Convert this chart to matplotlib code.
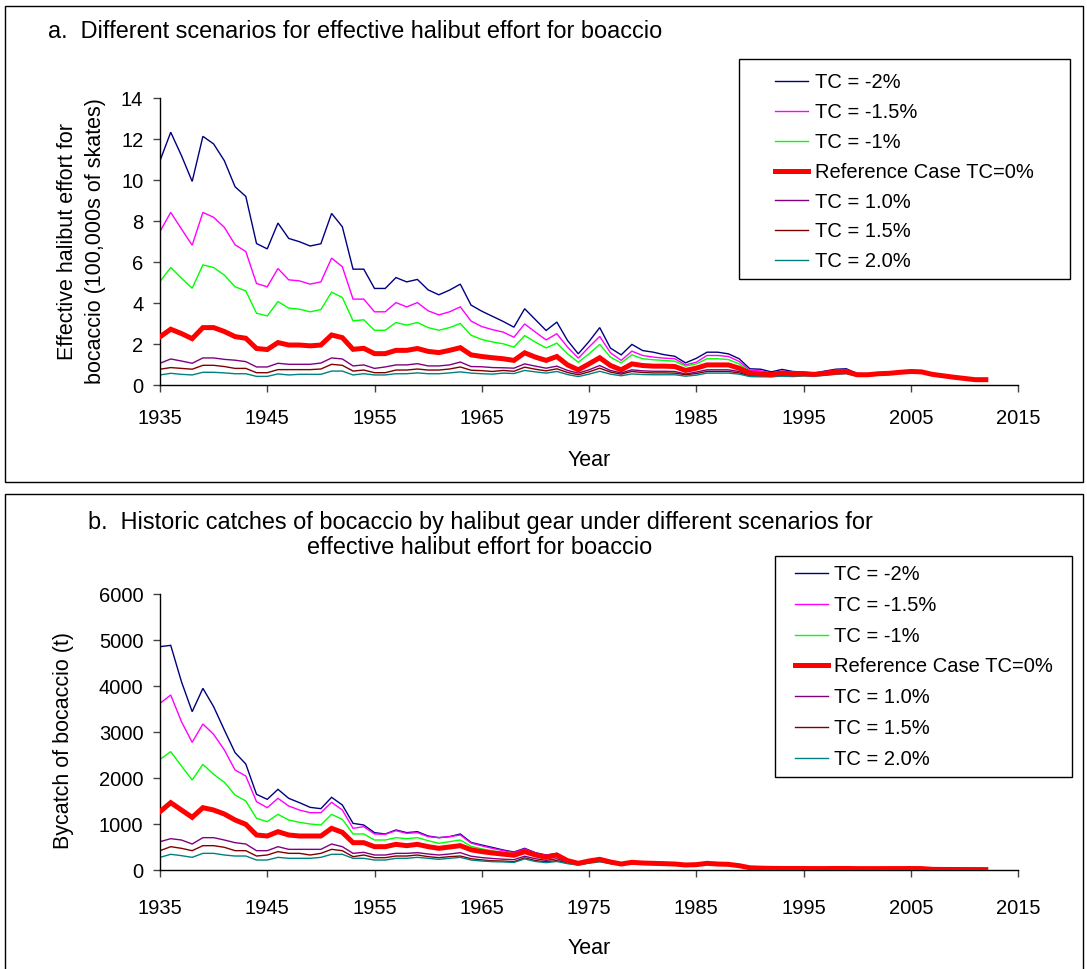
import matplotlib
matplotlib.use('Agg')
import matplotlib.pyplot as plt
from matplotlib.patches import Rectangle
import numpy as np

plt.rcParams['font.family'] = ['Liberation Sans', 'DejaVu Sans']

W, H = 1087, 969

years = list(range(1935, 2013))

labels = ['TC = -2%', 'TC = -1.5%', 'TC = -1%', 'Reference Case TC=0%',
          'TC = 1.0%', 'TC = 1.5%', 'TC = 2.0%']
colors = ['#000080', '#FF00FF', '#00FF00', '#FF0000', '#800080', '#800000', '#008080']
widths = [1.0, 1.0, 1.0, 3.6, 1.0, 1.0, 1.0]

# panel a: effective halibut effort (100,000s of skates)
effort_m20 = [10.94, 12.33, 11.19, 9.93, 12.13, 11.76, 10.94, 9.67, 9.20, 6.90,
              6.64, 7.90, 7.15, 6.99, 6.78, 6.89, 8.37, 7.72, 5.65, 5.65,
              4.71, 4.71, 5.24, 5.03, 5.15, 4.64, 4.40, 4.63, 4.92, 3.90,
              3.60, 3.35, 3.10, 2.82, 3.72, 3.19, 2.66, 3.07, 2.17, 1.52,
              2.12, 2.80, 1.80, 1.47, 1.98, 1.68, 1.60, 1.48, 1.40, 1.08,
              1.30, 1.60, 1.60, 1.52, 1.28, 0.79, 0.77, 0.64, 0.76, 0.66,
              0.63, 0.58, 0.68, 0.77, 0.79, 0.56, 0.55, 0.60, 0.62, 0.68,
              0.71, 0.68, 0.55, 0.47, 0.39, 0.33, 0.26, 0.26]
effort_m15 = [7.49, 8.42, 7.61, 6.82, 8.42, 8.18, 7.69, 6.84, 6.51, 4.95,
              4.79, 5.68, 5.13, 5.08, 4.92, 5.03, 6.19, 5.77, 4.19, 4.19,
              3.57, 3.57, 4.02, 3.81, 4.02, 3.62, 3.42, 3.57, 3.81, 3.12,
              2.85, 2.70, 2.58, 2.33, 2.98, 2.58, 2.20, 2.50, 1.85, 1.31,
              1.85, 2.37, 1.57, 1.20, 1.65, 1.44, 1.36, 1.31, 1.28, 0.98,
              1.11, 1.44, 1.44, 1.39, 1.15, 0.71, 0.69, 0.59, 0.67, 0.63,
              0.61, 0.57, 0.65, 0.73, 0.75, 0.54, 0.54, 0.59, 0.61, 0.66,
              0.70, 0.67, 0.54, 0.46, 0.39, 0.33, 0.26, 0.26]
effort_m10 = [5.05, 5.73, 5.21, 4.72, 5.86, 5.73, 5.36, 4.79, 4.59, 3.50,
              3.37, 4.07, 3.75, 3.70, 3.57, 3.68, 4.53, 4.27, 3.13, 3.18,
              2.67, 2.67, 3.05, 2.92, 3.05, 2.80, 2.67, 2.80, 3.00, 2.43,
              2.22, 2.10, 2.01, 1.85, 2.41, 2.09, 1.81, 2.04, 1.52, 1.11,
              1.52, 1.98, 1.36, 1.08, 1.47, 1.28, 1.23, 1.20, 1.16, 0.92,
              1.03, 1.28, 1.28, 1.24, 1.03, 0.66, 0.63, 0.56, 0.63, 0.59,
              0.58, 0.55, 0.61, 0.68, 0.70, 0.52, 0.52, 0.57, 0.59, 0.64,
              0.68, 0.66, 0.53, 0.46, 0.38, 0.32, 0.26, 0.26]
effort_ref = [2.35, 2.72, 2.51, 2.26, 2.80, 2.80, 2.61, 2.36, 2.28, 1.78,
              1.73, 2.07, 1.95, 1.95, 1.91, 1.95, 2.44, 2.31, 1.74, 1.79,
              1.53, 1.53, 1.69, 1.69, 1.78, 1.64, 1.58, 1.69, 1.82, 1.47,
              1.39, 1.33, 1.28, 1.20, 1.57, 1.36, 1.20, 1.39, 0.98, 0.74,
              1.03, 1.33, 0.95, 0.74, 1.03, 0.95, 0.92, 0.92, 0.90, 0.71,
              0.82, 0.98, 0.98, 0.98, 0.82, 0.58, 0.54, 0.51, 0.58, 0.54,
              0.55, 0.52, 0.57, 0.63, 0.65, 0.50, 0.50, 0.55, 0.57, 0.62,
              0.66, 0.64, 0.52, 0.45, 0.38, 0.32, 0.26, 0.26]
effort_p10 = [1.06, 1.27, 1.17, 1.06, 1.32, 1.32, 1.25, 1.21, 1.14, 0.88,
              0.88, 1.06, 1.01, 1.01, 1.01, 1.07, 1.32, 1.27, 0.93, 0.98,
              0.81, 0.88, 0.98, 0.98, 1.04, 0.93, 0.93, 0.98, 1.12, 0.90,
              0.89, 0.85, 0.84, 0.82, 1.03, 0.92, 0.82, 0.92, 0.71, 0.58,
              0.74, 0.95, 0.71, 0.59, 0.74, 0.69, 0.67, 0.67, 0.66, 0.54,
              0.63, 0.74, 0.74, 0.74, 0.66, 0.50, 0.48, 0.46, 0.51, 0.48,
              0.50, 0.48, 0.52, 0.58, 0.60, 0.47, 0.47, 0.52, 0.55, 0.60,
              0.64, 0.62, 0.51, 0.44, 0.37, 0.32, 0.26, 0.26]
effort_p15 = [0.77, 0.85, 0.81, 0.77, 0.96, 0.96, 0.90, 0.81, 0.81, 0.60,
              0.60, 0.75, 0.75, 0.75, 0.75, 0.78, 1.01, 0.96, 0.68, 0.73,
              0.60, 0.60, 0.73, 0.73, 0.78, 0.73, 0.73, 0.78, 0.88, 0.72,
              0.70, 0.66, 0.71, 0.67, 0.87, 0.77, 0.69, 0.79, 0.61, 0.50,
              0.64, 0.82, 0.63, 0.53, 0.66, 0.61, 0.59, 0.59, 0.58, 0.50,
              0.56, 0.66, 0.66, 0.66, 0.59, 0.45, 0.43, 0.41, 0.46, 0.45,
              0.47, 0.46, 0.50, 0.55, 0.58, 0.45, 0.46, 0.51, 0.54, 0.59,
              0.63, 0.62, 0.50, 0.44, 0.37, 0.31, 0.26, 0.26]
effort_p20 = [0.49, 0.57, 0.52, 0.49, 0.62, 0.62, 0.59, 0.55, 0.55, 0.42,
              0.42, 0.54, 0.49, 0.52, 0.52, 0.52, 0.68, 0.68, 0.49, 0.55,
              0.49, 0.49, 0.55, 0.55, 0.59, 0.55, 0.55, 0.59, 0.64, 0.58,
              0.55, 0.53, 0.58, 0.56, 0.71, 0.64, 0.58, 0.66, 0.51, 0.41,
              0.53, 0.67, 0.53, 0.45, 0.54, 0.51, 0.50, 0.50, 0.50, 0.43,
              0.48, 0.58, 0.58, 0.58, 0.53, 0.41, 0.40, 0.40, 0.43, 0.41,
              0.44, 0.43, 0.47, 0.52, 0.55, 0.43, 0.44, 0.49, 0.52, 0.58,
              0.62, 0.61, 0.50, 0.43, 0.37, 0.31, 0.26, 0.26]

# panel b: bycatch of bocaccio (t); after 1990 the scenarios overlap
catch_tail = [40, 35, 33, 33, 32, 31, 31, 33, 33, 30, 30,
              30, 31, 31, 32, 31, 14, 12, 11, 10, 10, 9]
catch_m20 = [4855, 4884, 4094, 3442, 3949, 3551, 3043, 2551, 2304, 1645,
             1536, 1754, 1558, 1464, 1362, 1333, 1580, 1413, 1014, 978,
             812, 783, 870, 812, 833, 739, 703, 725, 783, 600,
             543, 490, 435, 391, 471, 377, 326, 362, 217, 145,
             203, 261, 181, 130, 181, 152, 152, 145, 130, 109,
             116, 152, 138, 130, 94, 50] + catch_tail
catch_m15 = [3623, 3804, 3225, 2775, 3174, 2949, 2609, 2174, 2043, 1485,
             1355, 1558, 1391, 1304, 1246, 1246, 1471, 1304, 906, 942,
             783, 775, 855, 797, 812, 725, 703, 725, 761, 585,
             525, 470, 420, 378, 458, 368, 318, 352, 212, 143,
             199, 253, 177, 128, 177, 150, 150, 143, 128, 108,
             115, 150, 136, 128, 93, 49] + catch_tail
catch_m10 = [2406, 2572, 2261, 1957, 2297, 2080, 1906, 1630, 1500, 1123,
             1051, 1210, 1087, 1036, 1000, 978, 1210, 1101, 783, 783,
             652, 652, 703, 681, 703, 638, 580, 616, 652, 515,
             460, 415, 385, 348, 425, 345, 300, 338, 207, 142,
             197, 245, 175, 127, 172, 148, 148, 141, 127, 107,
             114, 148, 134, 127, 92, 48] + catch_tail
catch_ref = [1268, 1464, 1304, 1145, 1355, 1304, 1217, 1087, 993, 761,
             739, 833, 761, 739, 739, 739, 906, 819, 594, 594,
             507, 507, 558, 529, 558, 507, 471, 500, 529, 440,
             400, 370, 345, 320, 399, 326, 275, 326, 203, 145,
             196, 232, 174, 130, 167, 152, 145, 138, 130, 109,
             116, 145, 130, 123, 94, 48] + catch_tail
catch_p10 = [616, 681, 652, 565, 703, 703, 652, 594, 565, 420,
             420, 507, 449, 449, 449, 449, 565, 507, 362, 384,
             326, 326, 362, 362, 377, 348, 326, 348, 377, 300,
             270, 250, 235, 225, 300, 245, 210, 245, 165, 125,
             165, 200, 150, 115, 145, 135, 130, 128, 122, 105,
             110, 135, 125, 118, 90, 45] + catch_tail
catch_p15 = [420, 507, 471, 420, 529, 529, 493, 420, 420, 304,
             326, 399, 362, 362, 326, 362, 449, 420, 290, 326,
             268, 268, 304, 304, 326, 290, 268, 290, 304, 245,
             220, 200, 195, 180, 265, 205, 180, 205, 150, 115,
             155, 190, 145, 112, 140, 130, 125, 122, 118, 100,
             105, 128, 120, 112, 86, 43] + catch_tail
catch_p20 = [275, 341, 312, 275, 362, 362, 326, 304, 304, 217,
             217, 275, 254, 254, 254, 275, 341, 341, 254, 254,
             217, 217, 254, 254, 275, 254, 232, 254, 275, 217,
             196, 181, 175, 165, 240, 185, 160, 185, 138, 108,
             148, 178, 138, 108, 135, 125, 120, 118, 112, 96,
             100, 122, 115, 108, 82, 40] + catch_tail

effort = [effort_m20, effort_m15, effort_m10, effort_ref, effort_p10, effort_p15, effort_p20]
catch = [catch_m20, catch_m15, catch_m10, catch_ref, catch_p10, catch_p15, catch_p20]

FS = 14.5      # ticks and legend
FS_LAB = 15.5  # axis labels
FS_TIT = 16.9  # panel titles


def fx(px):
    return px / W


def fy(py):
    return 1 - py / H


def draw_panel(ax, series, ymax, ystep, xpad):
    handles = []
    for i, s in enumerate(series):
        z = 3 if i == 3 else 2
        h, = ax.plot(years, s, color=colors[i], lw=widths[i], zorder=z,
                     solid_joinstyle='miter')
        handles.append(h)
    ax.set_xlim(1935, 2015)
    ax.set_ylim(0, ymax)
    ax.set_xticks(range(1935, 2016, 10))
    ax.set_yticks(np.arange(0, ymax + 1e-9, ystep))
    for side in ['top', 'right']:
        ax.spines[side].set_visible(False)
    for side in ['left', 'bottom']:
        ax.spines[side].set_color('black')
        ax.spines[side].set_linewidth(1.0)
    ax.tick_params(direction='out', length=5, width=1.0, color='#444444',
                   labelsize=FS)
    ax.tick_params(axis='x', pad=xpad)
    ax.tick_params(axis='y', pad=7)
    ax.patch.set_alpha(0)
    return handles


fig = plt.figure(figsize=(W / 100, H / 100), dpi=100)

# panel frames
fig.patches.append(Rectangle((fx(5), fy(482)), fx(1078), (482 - 6) / H,
                             transform=fig.transFigure, fill=False,
                             edgecolor='black', lw=1.0))
fig.patches.append(Rectangle((fx(5), -0.02), fx(1078), fy(494) + 0.02,
                             transform=fig.transFigure, fill=False,
                             edgecolor='black', lw=1.0))

# panel a
ax1 = fig.add_axes([fx(160), fy(385), fx(858), (385 - 98) / H])
h1 = draw_panel(ax1, effort, 14, 2, 12.5)
ax1.set_xlabel('Year', fontsize=FS_LAB)
ax1.xaxis.set_label_coords(0.5, -0.225)
ax1.set_ylabel('Effective halibut effort for\nbocaccio (100,000s of skates)',
               fontsize=FS_LAB, linespacing=1.45)
ax1.yaxis.set_label_coords(-0.063, 0.5)
fig.text(fx(48), fy(32), 'a.  Different scenarios for effective halibut effort for boaccio',
         fontsize=FS_TIT, ha='left', va='center')

fig.patches.append(Rectangle((fx(739), fy(279)), fx(331), (279 - 59) / H,
                             transform=fig.transFigure, fill=True, facecolor='white',
                             edgecolor='black', lw=1.0, zorder=5))
leg1 = fig.legend(h1, labels, loc='upper left', bbox_to_anchor=(fx(775), fy(73)),
                  frameon=False, fontsize=FS, handlelength=1.65, handletextpad=0.35,
                  labelspacing=0.54, borderpad=0, borderaxespad=0)
leg1.set_zorder(6)

# panel b
ax2 = fig.add_axes([fx(160), fy(870), fx(858), (870 - 594) / H])
h2 = draw_panel(ax2, catch, 6000, 1000, 16)
ax2.set_xlabel('Year', fontsize=FS_LAB)
ax2.xaxis.set_label_coords(0.5, -0.245)
ax2.set_ylabel('Bycatch of bocaccio (t)', fontsize=FS_LAB)
ax2.yaxis.set_label_coords(-0.1, 0.47)
fig.text(fx(480), fy(523), 'b.  Historic catches of bocaccio by halibut gear under different scenarios for',
         fontsize=FS_TIT, ha='center', va='center')
fig.text(fx(480), fy(548), 'effective halibut effort for boaccio',
         fontsize=FS_TIT, ha='center', va='center')

fig.patches.append(Rectangle((fx(775), fy(777)), fx(297), (777 - 556) / H,
                             transform=fig.transFigure, fill=True, facecolor='white',
                             edgecolor='black', lw=1.0, zorder=5))
leg2 = fig.legend(h2, labels, loc='upper left', bbox_to_anchor=(fx(795), fy(565)),
                  frameon=False, fontsize=FS, handlelength=1.65, handletextpad=0.3,
                  labelspacing=0.585, borderpad=0, borderaxespad=0)
leg2.set_zorder(6)

fig.savefig('out.png', dpi=100)
